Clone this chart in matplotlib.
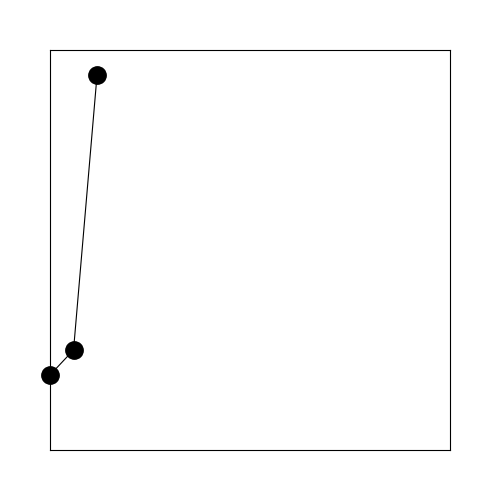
import matplotlib
matplotlib.use("Agg")
import matplotlib.pyplot as plt

x_values = [0, 1, 2]
y_values = [3, 4, 15]

fig = plt.figure(figsize=(5, 5), dpi=100)
ax = fig.add_axes([0.1, 0.1, 0.8, 0.8])
ax.plot(x_values, y_values, color="black", linewidth=0.8, marker="o",
        markersize=12.5, markerfacecolor="black", markeredgecolor="black", clip_on=False)
ax.set_xlim(0, 17)
ax.set_ylim(0, 16)
ax.set_xticks([])
ax.set_yticks([])
for s in ax.spines.values():
    s.set_linewidth(0.8)
fig.savefig("out.png", dpi=100)
